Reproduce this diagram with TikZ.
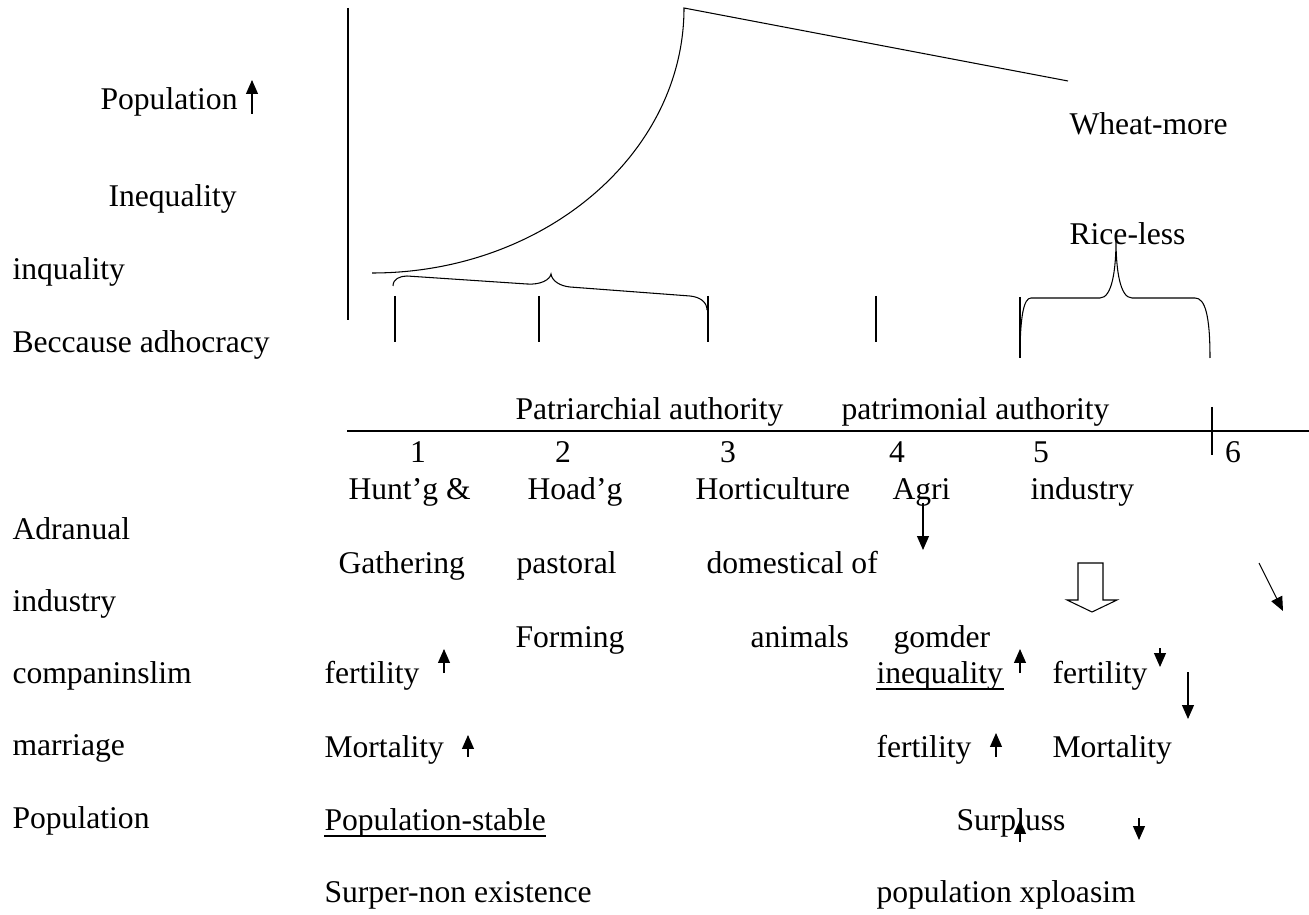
\documentclass[tikz,border=0pt]{standalone}
\usepackage{fontspec}
\setmainfont{Liberation Serif}
\usetikzlibrary{arrows.meta}
\begin{document}
\begin{tikzpicture}[x=0.02cm,y=-0.02cm,line width=0.6pt,
  >={Triangle[length=0.28cm,width=0.24cm]},
  every node/.style={font=\fontsize{18}{21}\selectfont},
  txt/.style={anchor=base west,inner sep=0pt},
  num/.style={anchor=base,inner sep=0pt}]
\useasboundingbox (0,0) rectangle (1309,915);
% left labels
\node[txt] (popl) at (100,110) {Population};
\draw[->] (252,114)--(252,80);
\node[txt] (ineql) at (108,207) {Inequality};
\node[txt] (inql) at (12,280) {inquality};
\node[txt] (becl) at (12,353) {Beccause adhocracy};
\node[txt] (adrl) at (12,540) {Adranual};
\node[txt] (indl) at (12,611) {industry};
\node[txt] (coml) at (12,683) {companinslim};
\node[txt] (marl) at (12,755) {marriage};
\node[txt] (pop2l) at (12,828) {Population};
% curve and axis
\draw (348,8)--(348,320);
\draw (372,273) .. controls (544,273) and (684,154) .. (684,8) -- (1068,81);
\node[txt] (wheat) at (1069,135) {Wheat-more};
\node[txt] (rice) at (1069,245) {Rice-less};
\draw (393,286) .. controls (393,279) and (400,276) .. (407,276) -- (527,284)
  .. controls (540,285) and (550,280) .. (551,274)
  .. controls (552,281) and (560,286) .. (570,287) -- (690,296)
  .. controls (700,297) and (707,302) .. (707,310);
\foreach \x in {395,539,708,876} \draw (\x,296)--(\x,342);
\draw (1020,297)--(1020,358);
\draw (1020,358) .. controls (1020,315) and (1024,298) .. (1031,298) -- (1100,298)
  .. controls (1112,298) and (1116,270) .. (1116,240)
  .. controls (1116,270) and (1120,298) .. (1132,298) -- (1195,298)
  .. controls (1205,298) and (1210,315) .. (1210,358);
\node[txt] (patri) at (515,420) {Patriarchial authority};
\node[txt] (patrim) at (841,420) {patrimonial authority};
\draw[line width=1.1pt] (347,431)--(1309,431);
\draw (1212,407)--(1212,455);
\node[num] (n1) at (418,463) {1};
\node[num] (n2) at (563,463) {2};
\node[num] (n3) at (728,463) {3};
\node[num] (n4) at (897,463) {4};
\node[num] (n5) at (1041,463) {5};
\node[num] (n6) at (1233,463) {6};
% stages
\node[txt] (hunt) at (348,500) {Hunt'g \&};
\node[txt] (hoad) at (527,500) {Hoad'g};
\node[txt] (hort) at (695,500) {Horticulture};
\node[txt] (agri) at (892,500) {Agri};
\node[txt] (indu) at (1030,500) {industry};
\node[txt] (gath) at (338,573) {Gathering};
\node[txt] (past) at (516,573) {pastoral};
\node[txt] (dome) at (706,573) {domestical of};
\node[txt] (form) at (515,647) {Forming};
\node[txt] (anim) at (750,647) {animals};
\node[txt] (gomd) at (893,647) {gomder};
\draw[->] (923,503)--(923,550);
\draw (1078,563)--(1103,563)--(1103,600)--(1117,600)--(1092,612)--(1067,600)--(1078,600)--cycle;
\draw[->] (1259,563)--(1283,611);
% effects
\node[txt] (fert1) at (324,683) {fertility};
\draw[->] (444,673)--(444,649);
\node[txt] (mort1) at (324,757) {Mortality};
\draw[->] (468,757)--(468,735);
\node[txt] (popst) at (324,830) {Population-stable};
\draw ([yshift=-0.12cm]popst.base west)--([yshift=-0.12cm]popst.base east);
\node[txt] (surp1) at (324,902) {Surper-non existence};
\node[txt] (ineq2) at (876,683) {inequality};
\draw ([yshift=-0.12cm]ineq2.base west)--([yshift=-0.12cm]ineq2.base east);
\draw[->] (1020,673)--(1020,649);
\node[txt] (fert2) at (1052,683) {fertility};
\draw[->] (1160,648)--(1160,667);
\draw[->] (1188,672)--(1188,719);
\node[txt] (fert3) at (876,757) {fertility};
\draw[->] (996,757)--(996,733);
\node[txt] (mort2) at (1052,757) {Mortality};
\node[txt] (surp2) at (956,830) {Surpluss};
\draw[->] (1020,842)--(1020,820);
\draw[->] (1139,818)--(1139,840);
\node[txt] (popx) at (876,902) {population xploasim};
\end{tikzpicture}
\end{document}
